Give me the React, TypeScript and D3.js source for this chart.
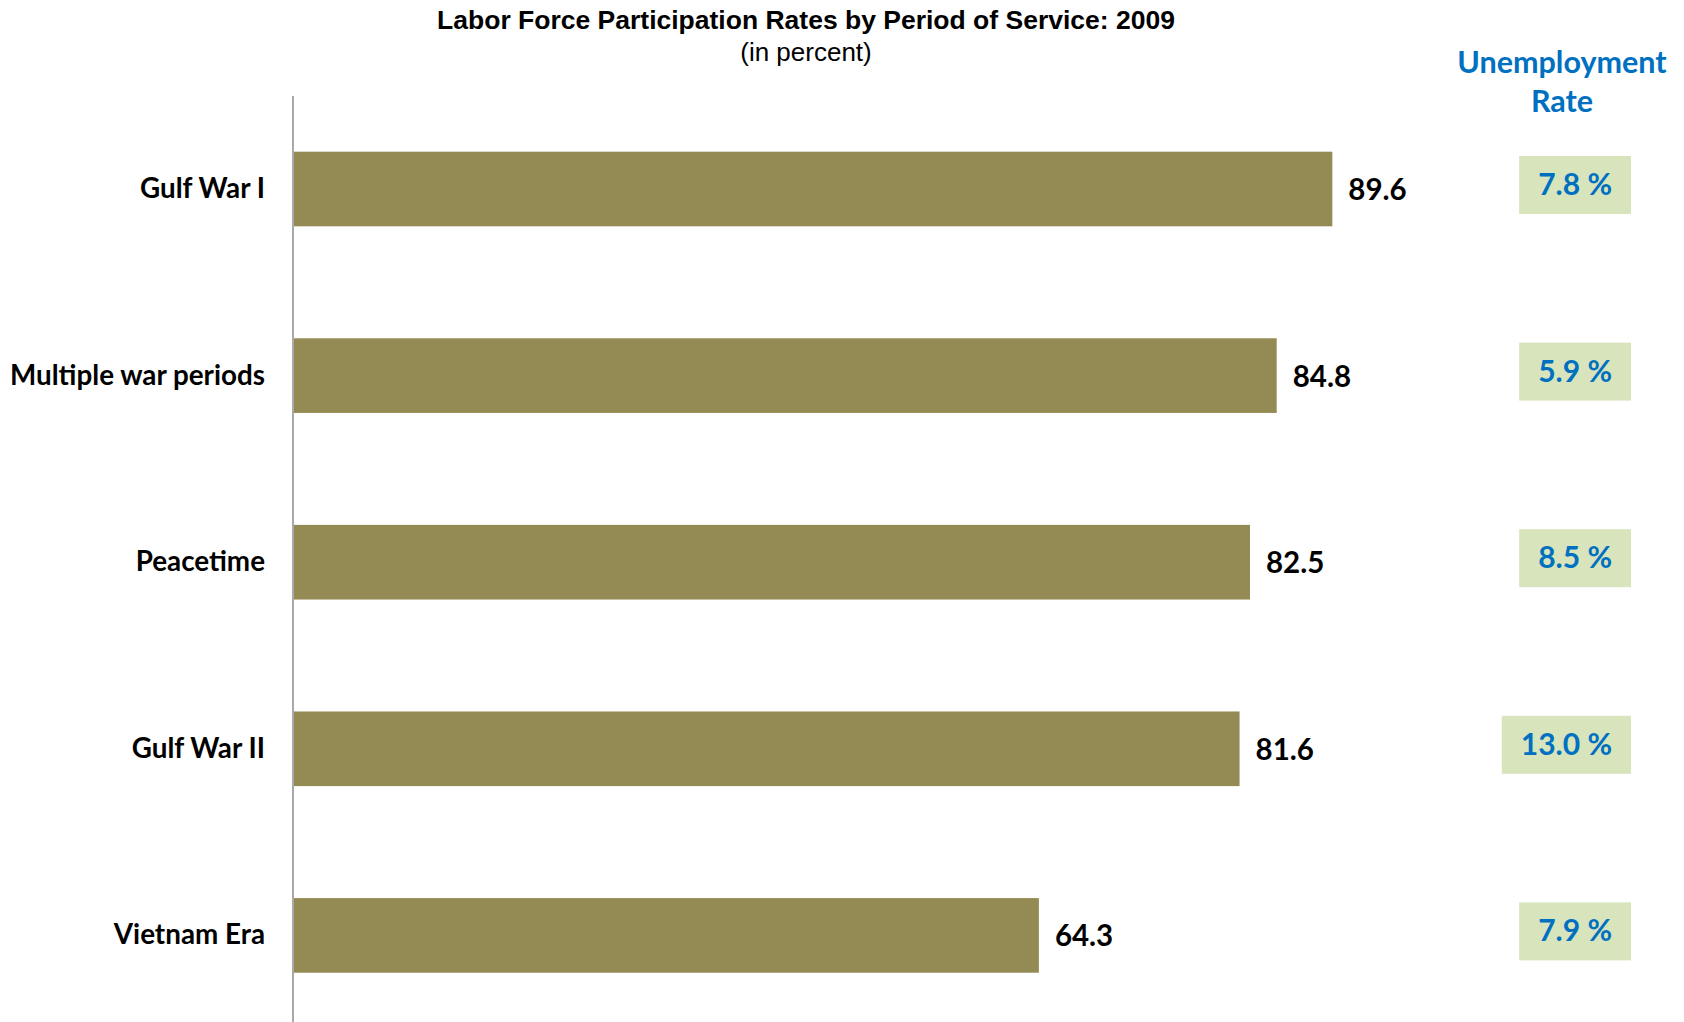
import React, { useEffect, useRef } from "react";
import * as d3 from "d3";

const categories = ["Gulf War I", "Multiple war periods", "Peacetime", "Gulf War II", "Vietnam Era"];
const participation = [89.6, 84.8, 82.5, 81.6, 64.3];
const unemployment = ["7.8 %", "5.9 %", "8.5 %", "13.0 %", "7.9 %"];

const W = 1684;
const H = 1022;
const FONT = "Lato, 'Open Sans', sans-serif";
const BLUE = "#0070C0";

export default function App() {
  const ref = useRef<SVGSVGElement | null>(null);

  useEffect(() => {
    const svg = d3.select(ref.current);
    svg.selectAll("*").remove();

    const x = d3.scaleLinear().domain([0, 100]).range([293, 1453]);
    const y = d3
      .scaleBand<string>()
      .domain(categories)
      .range([95.7, 1028.7])
      .paddingInner(0.6)
      .paddingOuter(0.3);

    // title
    svg
      .append("text")
      .attr("x", 806)
      .attr("y", 29)
      .attr("text-anchor", "middle")
      .attr("font-family", "'Liberation Sans', Arial, sans-serif")
      .attr("font-weight", "bold")
      .attr("font-size", 26.5)
      .text("Labor Force Participation Rates by Period of Service: 2009");
    svg
      .append("text")
      .attr("x", 806)
      .attr("y", 61)
      .attr("text-anchor", "middle")
      .attr("font-family", "'Liberation Sans', Arial, sans-serif")
      .attr("font-size", 26)
      .text("(in percent)");

    // unemployment header
    const hdr = svg
      .append("text")
      .attr("text-anchor", "middle")
      .attr("font-family", FONT)
      .attr("font-weight", "bold")
      .attr("font-size", 30.5)
      .attr("fill", BLUE);
    hdr.append("tspan").attr("x", 1562).attr("y", 73).text("Unemployment");
    hdr.append("tspan").attr("x", 1562).attr("y", 112).text("Rate");

    // axis line
    svg
      .append("line")
      .attr("x1", x(0))
      .attr("x2", x(0))
      .attr("y1", 96)
      .attr("y2", H)
      .attr("stroke", "#8c8c8c")
      .attr("stroke-width", 1.5);

    const rows = categories.map((c, i) => ({
      cat: c,
      val: participation[i],
      ur: unemployment[i],
    }));

    const g = svg.append("g");

    g.selectAll("rect.bar")
      .data(rows)
      .enter()
      .append("rect")
      .attr("class", "bar")
      .attr("x", x(0) + 1)
      .attr("y", (d) => y(d.cat)!)
      .attr("width", (d) => x(d.val) - x(0) - 1)
      .attr("height", y.bandwidth())
      .attr("fill", "#948A54");

    g.selectAll("text.cat")
      .data(rows)
      .enter()
      .append("text")
      .attr("class", "cat")
      .attr("x", x(0) - 28)
      .attr("y", (d) => y(d.cat)! + y.bandwidth() / 2 + 9)
      .attr("text-anchor", "end")
      .attr("font-family", FONT)
      .attr("font-weight", "bold")
      .attr("font-size", 27.8)
      .attr("fill", "#000")
      .text((d) => d.cat);

    g.selectAll("text.val")
      .data(rows)
      .enter()
      .append("text")
      .attr("class", "val")
      .attr("x", (d) => x(d.val) + 16)
      .attr("y", (d) => y(d.cat)! + y.bandwidth() / 2 + 11)
      .attr("font-family", FONT)
      .attr("font-weight", "bold")
      .attr("font-size", 29.5)
      .attr("fill", "#000")
      .text((d) => d.val.toFixed(1));

    // unemployment boxes, right aligned, sized to their text
    const boxRight = 1631;
    rows.forEach((d) => {
      const cy = y(d.cat)! + y.bandwidth() / 2 - 4;
      const box = g.append("rect").attr("fill", "#D8E4BC");
      const t = g
        .append("text")
        .attr("text-anchor", "middle")
        .attr("font-family", FONT)
        .attr("font-weight", "bold")
        .attr("font-size", 30)
        .attr("fill", BLUE)
        .text(d.ur);
      const tw = (t.node() as SVGTextElement).getComputedTextLength();
      const bw = tw + 38;
      box
        .attr("x", boxRight - bw)
        .attr("y", cy - 29)
        .attr("width", bw)
        .attr("height", 58);
      t.attr("x", boxRight - bw / 2).attr("y", cy + 10);
    });
  }, []);

  return (
    <svg
      ref={ref}
      width={W}
      height={H}
      style={{ position: "absolute", left: 0, top: 0, background: "#fff", display: "block" }}
    />
  );
}
